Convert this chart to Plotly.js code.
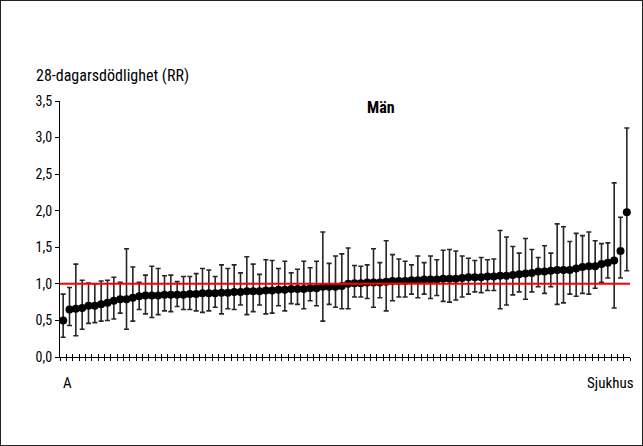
<!DOCTYPE html>
<html>
<head>
<meta charset="utf-8">
<script src="https://cdn.plot.ly/plotly-3.0.1.min.js"></script>
<style>
html,body{margin:0;padding:0;background:#fff;}
#frame{position:absolute;left:0;top:0;width:643px;height:446px;box-sizing:border-box;border:1px solid #222;}
#chart{position:absolute;left:0;top:0;width:643px;height:446px;}
</style>
</head>
<body>
<div id="chart"></div>
<div id="frame"></div>
<script>
// Relative risk (RR) for 28-day mortality per hospital (sorted), with confidence limits
const hospitals = Array.from({length: 90}, (_, i) => 'S' + (i + 1));
const rr = [
  0.50, 0.65, 0.66, 0.67, 0.70, 0.70, 0.72, 0.74, 0.77, 0.79,
  0.79, 0.81, 0.83, 0.84, 0.84, 0.84, 0.85, 0.85, 0.85, 0.85,
  0.86, 0.86, 0.87, 0.87, 0.87, 0.88, 0.88, 0.89, 0.89, 0.90,
  0.90, 0.90, 0.91, 0.91, 0.92, 0.92, 0.93, 0.93, 0.93, 0.94,
  0.94, 0.96, 0.96, 0.96, 0.97, 1.00, 1.01, 1.01, 1.02, 1.02,
  1.02, 1.03, 1.04, 1.04, 1.04, 1.05, 1.05, 1.06, 1.06, 1.06,
  1.07, 1.07, 1.07, 1.08, 1.09, 1.09, 1.09, 1.10, 1.10, 1.11,
  1.11, 1.12, 1.13, 1.14, 1.15, 1.17, 1.17, 1.18, 1.19, 1.19,
  1.19, 1.21, 1.23, 1.24, 1.24, 1.27, 1.29, 1.32, 1.45, 1.98
];
const upper = [
  0.86, 0.95, 1.27, 1.05, 1.01, 1.00, 1.04, 1.05, 1.09, 1.02,
  1.48, 1.23, 1.02, 1.12, 1.24, 1.21, 1.11, 1.12, 1.03, 1.10,
  1.10, 1.14, 1.21, 1.19, 1.10, 1.26, 1.21, 1.26, 1.15, 1.37,
  1.27, 1.13, 1.33, 1.32, 1.21, 1.31, 1.15, 1.20, 1.31, 1.22,
  1.31, 1.71, 1.28, 1.38, 1.41, 1.49, 1.25, 1.24, 1.26, 1.48,
  1.29, 1.59, 1.40, 1.34, 1.31, 1.26, 1.38, 1.29, 1.38, 1.33,
  1.46, 1.47, 1.45, 1.38, 1.35, 1.32, 1.36, 1.33, 1.34, 1.73,
  1.64, 1.51, 1.42, 1.62, 1.47, 1.36, 1.52, 1.42, 1.82, 1.78,
  1.58, 1.69, 1.66, 1.71, 1.59, 1.55, 1.56, 2.38, 1.91, 3.13
];
const lower = [
  0.27, 0.43, 0.29, 0.38, 0.46, 0.47, 0.49, 0.50, 0.52, 0.60,
  0.38, 0.49, 0.65, 0.59, 0.54, 0.58, 0.63, 0.62, 0.69, 0.65,
  0.65, 0.63, 0.61, 0.63, 0.68, 0.59, 0.66, 0.65, 0.71, 0.58,
  0.62, 0.71, 0.59, 0.60, 0.70, 0.63, 0.73, 0.72, 0.66, 0.77,
  0.70, 0.49, 0.72, 0.68, 0.66, 0.66, 0.82, 0.82, 0.80, 0.68,
  0.81, 0.63, 0.77, 0.82, 0.82, 0.86, 0.81, 0.86, 0.80, 0.84,
  0.76, 0.75, 0.78, 0.82, 0.86, 0.89, 0.88, 0.91, 0.91, 0.66,
  0.71, 0.85, 0.89, 0.79, 0.89, 0.96, 0.87, 0.96, 0.72, 0.74,
  0.86, 0.83, 0.87, 0.86, 0.94, 1.02, 1.08, 0.67, 1.08, 1.18
];
const referenceRR = 1.0;
const yTicks = [0, 0.5, 1.0, 1.5, 2.0, 2.5, 3.0, 3.5];
const yTickText = ['0,0', '0,5', '1,0', '1,5', '2,0', '2,5', '3,0', '3,5'];
const yTitle = '28-dagarsdödlighet (RR)';
const panelTitle = 'Män';
const firstLabel = 'A';
const xLabel = 'Sjukhus';

const xIdx = hospitals.map((_, i) => i);
const errPlus = rr.map((v, i) => +(upper[i] - v).toFixed(3));
const errMinus = rr.map((v, i) => +(v - lower[i]).toFixed(3));

const FONT = '"Liberation Sans Narrow", "Arial Narrow", "Roboto Condensed", "Liberation Sans", Arial, sans-serif';

const traces = [
  {
    x: xIdx, y: rr, type: 'scatter', mode: 'markers',
    marker: {color: '#000', size: 8},
    error_y: {type: 'data', symmetric: false, array: errPlus, arrayminus: errMinus,
              color: '#262626', thickness: 1.6, width: 2.5},
    hoverinfo: 'skip', showlegend: false, cliponaxis: false
  },
  {
    x: [-0.5, 90.1], y: [referenceRR, referenceRR], type: 'scatter', mode: 'lines',
    line: {color: '#ff0000', width: 2}, hoverinfo: 'skip', showlegend: false, cliponaxis: false
  },
  {
    x: [0], y: [0], xaxis: 'x2', type: 'scatter', mode: 'markers',
    marker: {opacity: 0}, hoverinfo: 'skip', showlegend: false
  }
];

const layout = {
  width: 643, height: 446,
  margin: {l: 60, r: 13, t: 101, b: 89},
  paper_bgcolor: '#fff', plot_bgcolor: '#fff',
  font: {family: FONT, size: 14, color: '#000'},
  showlegend: false,
  xaxis: {
    range: [-0.5, 89.5], tick0: -0.5, dtick: 1, ticks: 'outside', ticklen: 3,
    tickcolor: '#000', tickwidth: 1, showticklabels: false, showgrid: false,
    zeroline: false, showline: true, linecolor: '#000', linewidth: 1, fixedrange: true
  },
  xaxis2: {
    overlaying: 'x', range: [-0.5, 89.5], tick0: -0.5, dtick: 1, ticks: 'inside', ticklen: 3,
    tickcolor: '#000', tickwidth: 1, showticklabels: false, showgrid: false,
    zeroline: false, showline: false, anchor: 'y', side: 'bottom', fixedrange: true
  },
  yaxis: {
    range: [0, 3.5], tickvals: yTicks, ticktext: yTickText, ticks: 'outside', ticklen: 4,
    tickcolor: '#000', showgrid: false, zeroline: false, showline: true,
    linecolor: '#000', linewidth: 1, tickfont: {size: 14}, fixedrange: true
  },
  annotations: [
    {text: yTitle, xref: 'paper', yref: 'paper', x: -0.045, y: 1.10, xanchor: 'left', yanchor: 'middle',
     showarrow: false, font: {size: 16}},
    {text: '<b>' + panelTitle + '</b>', xref: 'paper', yref: 'paper', x: 0.563, y: 0.973,
     xanchor: 'center', yanchor: 'middle', showarrow: false, font: {size: 16}},
    {text: firstLabel, xref: 'paper', yref: 'paper', x: 0.013, y: -0.1, xanchor: 'center', yanchor: 'middle',
     showarrow: false, font: {size: 15}},
    {text: xLabel, xref: 'paper', yref: 'paper', x: 1.01, y: -0.1, xanchor: 'right', yanchor: 'middle',
     showarrow: false, font: {size: 15}}
  ]
};

Plotly.newPlot('chart', traces, layout, {displayModeBar: false, staticPlot: true});
</script>
</body>
</html>
